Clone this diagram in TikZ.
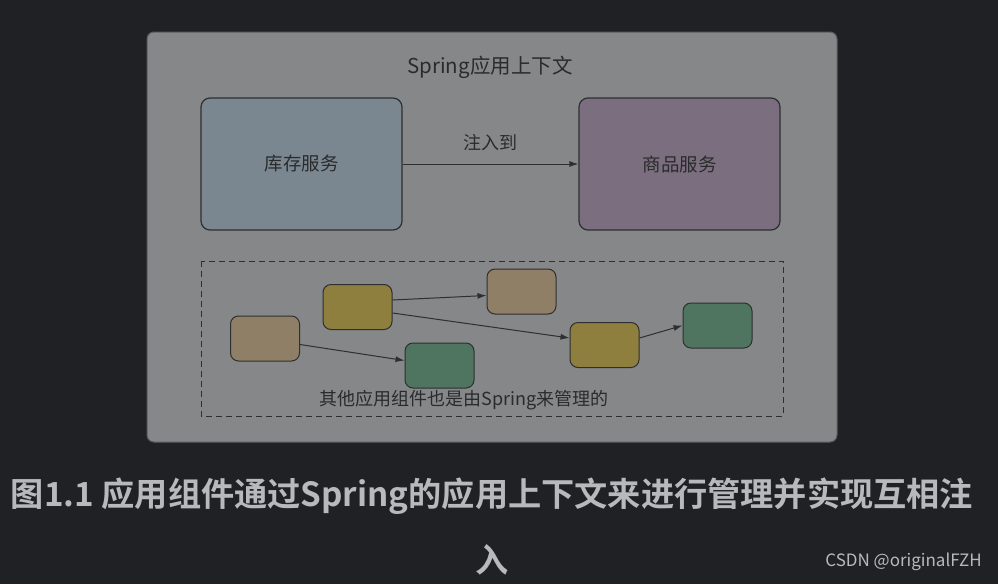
\documentclass[tikz,border=0pt]{standalone}
\usepackage{fontspec}
\setmainfont{Noto Sans CJK SC}
\newfontfamily\cjkbold{Noto Sans CJK SC Bold}
\usetikzlibrary{arrows.meta}
\definecolor{bgdark}{HTML}{202124}
\definecolor{panel}{HTML}{858788}
\definecolor{panelborder}{HTML}{5a5c5e}
\definecolor{edge}{HTML}{2e2f30}
\definecolor{bluebox}{HTML}{7a8690}
\definecolor{purplebox}{HTML}{7a6e7f}
\definecolor{tanbox}{HTML}{8e7f66}
\definecolor{yelbox}{HTML}{8e7f3e}
\definecolor{greenbox}{HTML}{4f7460}
\definecolor{txtdark}{HTML}{2a2b2c}
\definecolor{captxt}{HTML}{b8b9ba}
\begin{document}
\begin{tikzpicture}[x=1pt,y=-1pt,
  bigbox/.style={draw=edge, line width=1.2pt, rounded corners=9pt, minimum width=201pt, minimum height=132pt, inner sep=0pt, text=txtdark, font=\fontsize{18.5}{22}\selectfont},
  smallbox/.style={draw=edge, line width=1pt, rounded corners=8pt, minimum width=69pt, minimum height=45pt, inner sep=0pt},
  conn/.style={draw=edge, line width=1pt, -{Latex[length=9pt,width=6pt]}},
  lbl/.style={text=txtdark, inner sep=0pt}
]
\useasboundingbox (0,0) rectangle (998,584);
\fill[bgdark] (0,0) rectangle (998,584);
% panel
\draw[fill=panel, draw=panelborder, line width=1pt, rounded corners=7pt] (147,32) rectangle (837,442);
\node[lbl, font=\fontsize{20.5}{24}\selectfont] (title) at (490,67) {Spring应用上下文};
% big boxes
\node[bigbox, fill=bluebox] (inv) at (301.5,164) {库存服务};
\node[bigbox, fill=purplebox] (prod) at (679.5,164) {商品服务};
\draw[conn] (inv.east) -- node[lbl, above=13pt, font=\fontsize{18}{22}\selectfont] (inject) {注入到} (prod.west);
% dashed region
\draw[edge, line width=1pt, dash pattern=on 6pt off 4pt] (201,261) rectangle (783,416);
% small boxes
\node[smallbox, fill=tanbox] (a) at (265,338.5) {};
\node[smallbox, fill=yelbox] (b) at (357.5,307) {};
\node[smallbox, fill=tanbox] (c) at (521.5,291.5) {};
\node[smallbox, fill=greenbox] (d) at (439.5,365.5) {};
\node[smallbox, fill=yelbox] (e) at (604.5,345) {};
\node[smallbox, fill=greenbox] (f) at (717.5,325.5) {};
\draw[conn] ([yshift=-6pt]a.east) -- ([yshift=5pt]d.west);
\draw[conn] ([yshift=7pt]b.east) -- ([yshift=-4pt]c.west);
\draw[conn] ([yshift=-6pt]b.east) -- ([yshift=7pt]e.west);
\draw[conn] ([yshift=7pt]e.east) -- (f.west);
\node[lbl, font=\fontsize{18}{22}\selectfont] (other) at (464,400) {其他应用组件也是由Spring来管理的};
% caption
\node[text=captxt, inner sep=0pt, font=\cjkbold\fontsize{33.2}{40}\selectfont] (cap1) at (492,496) {图1.1 应用组件通过Spring的应用上下文来进行管理并实现互相注};
\node[text=captxt, inner sep=0pt, font=\cjkbold\fontsize{33.2}{40}\selectfont] (cap2) at (492,560) {入};
\node[text=captxt, inner sep=0pt, anchor=east, font=\fontsize{17}{20}\selectfont] (wm) at (982,562) {CSDN @originalFZH};
\end{tikzpicture}
\end{document}
